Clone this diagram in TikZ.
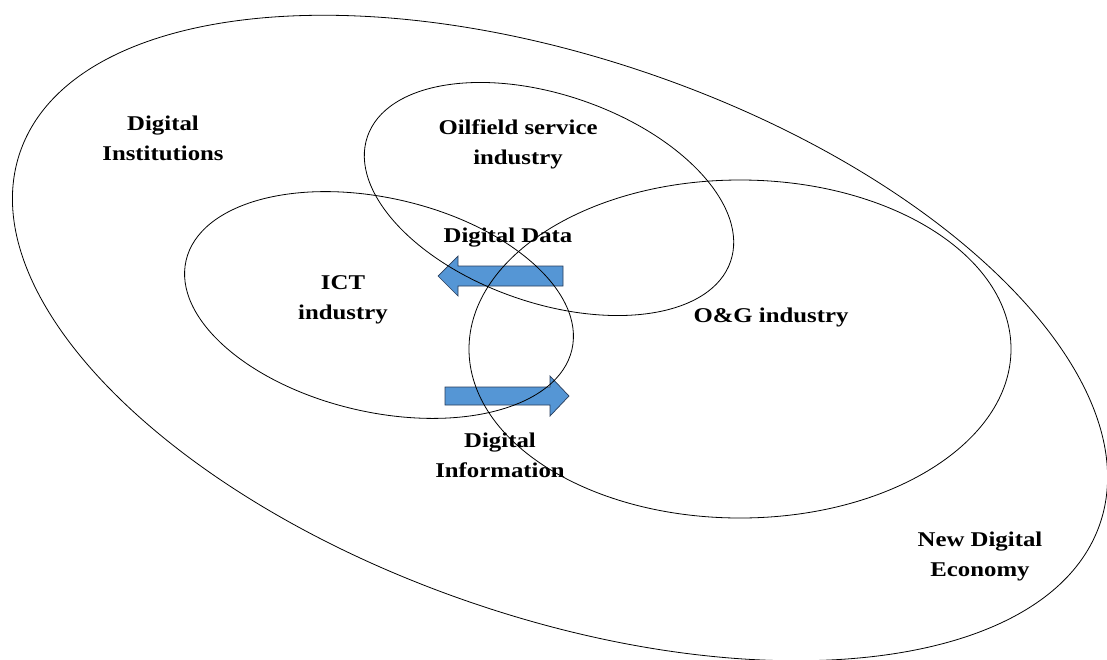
\documentclass[tikz,border=0pt]{standalone}
\usepackage{fontspec}
\setmainfont{Liberation Serif}[FakeStretch=1.18]
\definecolor{arrowblue}{RGB}{85,150,213}
\definecolor{arrowedge}{RGB}{40,60,90}
\begin{document}
\begin{tikzpicture}[x=1pt,y=-1pt,
  ring/.style={draw=black,line width=0.8pt},
  lbl/.style={font=\fontsize{21}{30}\selectfont\bfseries,align=center,inner sep=0pt},
  blockarrow/.style={fill=arrowblue,draw=arrowedge,line width=0.7pt}]
\useasboundingbox (0,0) rectangle (1107,659);
% block arrows (drawn first, lines pass over them)
\draw[blockarrow] (563,266) -- (458,266) -- (458,256) -- (438,276) -- (458,296) -- (458,286) -- (563,286) -- cycle;
\draw[blockarrow] (445,387) -- (550,387) -- (550,376) -- (569,396) -- (550,416) -- (550,405) -- (445,405) -- cycle;
% ellipses
\draw[ring] (560,338) ellipse[x radius=571,y radius=279,rotate=-19];
\draw[ring] (549,199) ellipse[x radius=192,y radius=104,rotate=-19];
\draw[ring] (379,305) ellipse[x radius=198,y radius=107,rotate=-13];
\draw[ring] (740,349) ellipse[x radius=271,y radius=169];
% labels
\node[lbl] (inst) at (163,138) {Digital\\Institutions};
\node[lbl] (ofs) at (518,144) {Oilfield service\\industry};
\node[lbl] (data) at (508,238) {Digital Data};
\node[lbl] (ict) at (343,300) {ICT\\industry};
\node[lbl] (og) at (771,317) {O\&G industry};
\node[lbl] (info) at (500,455) {Digital\\Information};
\node[lbl] (nde) at (980,556) {New Digital\\Economy};
\end{tikzpicture}
\end{document}
